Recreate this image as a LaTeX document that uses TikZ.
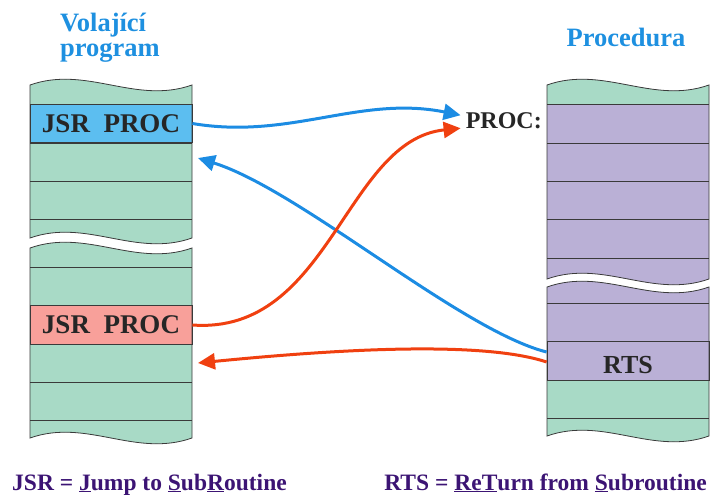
\documentclass[tikz,border=0pt]{standalone}
\usepackage{fontspec}
\setmainfont{Liberation Serif}
\usetikzlibrary{arrows.meta,positioning}

\definecolor{memgreen}{HTML}{A8DAC6}
\definecolor{procpurple}{HTML}{BAB0D6}
\definecolor{cellblue}{HTML}{5CBEF0}
\definecolor{cellpink}{HTML}{F8A09A}
\definecolor{titleblue}{HTML}{1E90E0}
\definecolor{arrowblue}{HTML}{1C8CE3}
\definecolor{arroworange}{HTML}{F04010}
\definecolor{notepurple}{HTML}{3C1474}
\definecolor{edgegray}{HTML}{3A3A3A}

\tikzset{
  piece/.style={draw=edgegray, line width=0.8pt},
  rowline/.style={draw=edgegray, line width=0.8pt},
  cell/.style={draw=edgegray, line width=0.8pt, minimum width=162pt,
    minimum height=38.5pt, inner sep=0pt, text=black!85,
    font=\fontsize{27}{30}\selectfont\bfseries},
  jump/.style={line width=3pt, -{Triangle[length=17pt,width=16pt]}},
  heading/.style={text=titleblue, inner sep=0pt,
    font=\fontsize{26.5}{25}\selectfont\bfseries},
  note/.style={text=notepurple, inner sep=0pt,
    font=\fontsize{23.5}{26}\selectfont\bfseries},
}

% wavy cut of a memory column, 162 wide
\def\waveto#1#2{.. controls (#1+56.7,#2-20) and (#1+105.3,#2+20) .. (#1+162,#2)}
\def\waveback#1#2{.. controls (#1+105.3,#2+20) and (#1+56.7,#2-20) .. (#1,#2)}

\begin{document}
\begin{tikzpicture}[x=1pt,y=-1pt]
  \useasboundingbox (0,0) rectangle (715,497);

  \def\callerTop{(30,85) \waveto{30}{85} -- (192,238) \waveback{30}{238} -- cycle}
  \def\callerBottom{(30,248) \waveto{30}{248} -- (192,438) \waveback{30}{438} -- cycle}
  \def\procTop{(547,85) \waveto{547}{85} -- (709,279) \waveback{547}{279} -- cycle}
  \def\procBottom{(547,287) \waveto{547}{287} -- (709,436) \waveback{547}{436} -- cycle}

  % Fill the columns
  \fill[memgreen] \callerTop;
  \fill[memgreen] \callerBottom;
  \fill[procpurple] \procTop;
  \fill[memgreen] (547,85) \waveto{547}{85} -- (709,104) -- (547,104) -- cycle;
  \fill[memgreen] \procBottom;
  \fill[procpurple] (547,287) \waveto{547}{287} -- (709,380) -- (547,380) -- cycle;

  % Row lines
  \foreach \y in {104,143,181,219,267,306,344,382,420}
    \draw[rowline] (30,\y) -- (192,\y);
  \foreach \y in {104,143,181,219,258,303,342,380,418}
    \draw[rowline] (547,\y) -- (709,\y);

  % Labelled cells
  \node[cell, fill=cellblue] (jsrA) at (111,123.5) {JSR\ \ PROC};
  \node[cell, fill=cellpink] (jsrB) at (111,325) {JSR\ \ PROC};
  \node[cell, fill=procpurple, font=\fontsize{26}{28}\selectfont\bfseries,
    text height=24pt, text depth=0pt] (rts) at (628,361) {RTS};

  % Outlines
  \draw[piece] \callerTop;
  \draw[piece] \callerBottom;
  \draw[piece] \procTop;
  \draw[piece] \procBottom;

  % Texts
  \node[heading, align=left, anchor=north west] (caller) at (60,13) {Volající\\program};
  \node[heading, anchor=base] (callee) at (626,47) {Procedura};
  \node[anchor=base east, inner sep=1pt, text=black!85,
    font=\fontsize{24}{26}\selectfont\bfseries] (proc) at (543,129) {PROC:};
  \node[note, anchor=base west] (jsrnote) at (12,490)
    {JSR = \underline{J}ump to \underline{S}ub\underline{R}outine};
  \node[note, anchor=base east] (rtsnote) at (707,490)
    {RTS = \underline{Re}\underline{T}urn from \underline{S}ubroutine};

  % Jumps and returns
  \coordinate (retA) at (198,158);
  \coordinate (retB) at (198,363);
  \draw[jump, arrowblue] (jsrA.east) .. controls (290,140) and (360,95) .. ([xshift=-4pt,yshift=6pt]proc.west);
  \draw[jump, arrowblue] ([yshift=9pt]rts.west) .. controls (460,330) and (300,190) .. (retA);
  \draw[jump, arroworange] (jsrB.east) .. controls (330,335) and (345,140) .. ([xshift=-4pt,yshift=-7pt]proc.west);
  \draw[jump, arroworange] ([yshift=-1pt]rts.west) .. controls (480,340) and (330,350) .. (retB);

\end{tikzpicture}
\end{document}
